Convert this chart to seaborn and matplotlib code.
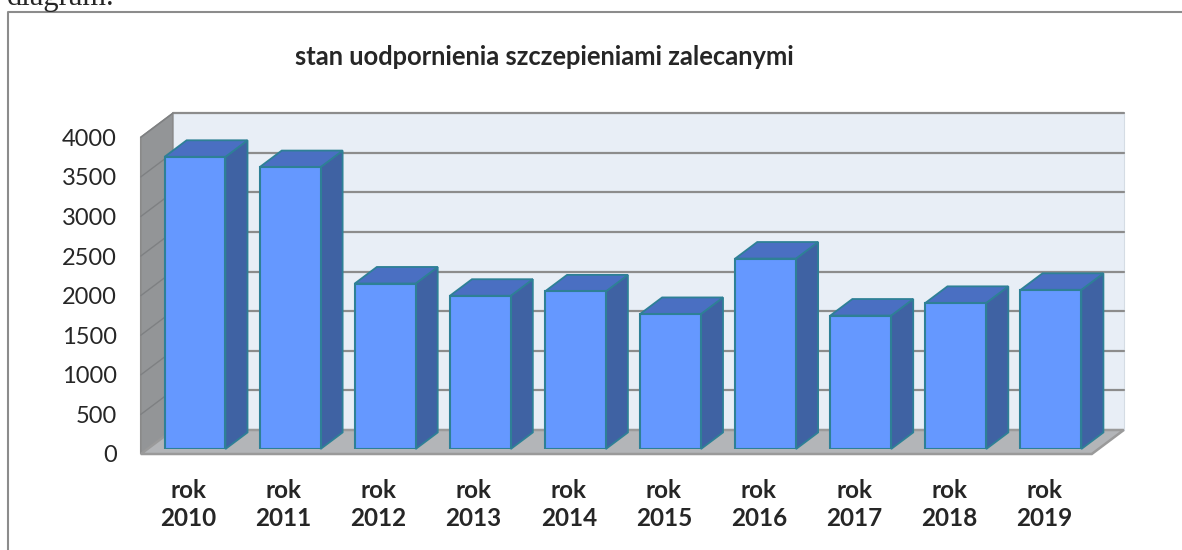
import matplotlib
matplotlib.use("Agg")
import matplotlib.pyplot as plt
import matplotlib.transforms as mtransforms
from matplotlib.patches import Polygon
from matplotlib.lines import Line2D
import seaborn as sns

# data
years = ["2010", "2011", "2012", "2013", "2014", "2015", "2016", "2017", "2018", "2019"]
values = [3690, 3560, 2090, 1935, 1990, 1705, 2405, 1685, 1845, 2010]
yticks = [0, 500, 1000, 1500, 2000, 2500, 3000, 3500, 4000]
title = "stan uodpornienia szczepieniami zalecanymi"

sns.set_style("white")
plt.rcParams["font.family"] = ["Lato", "DejaVu Sans"]

W, H, DPI = 1182, 550, 100
fig = plt.figure(figsize=(W / DPI, H / DPI), dpi=DPI)

# axes = front plane of the bars
x0_px, step_px = 195.0, 95.1
y0_px, ppu = 449.0, 316.7 / 4000
ax = fig.add_axes([(x0_px - 0.5 * step_px) / W, (H - y0_px) / H,
                   10 * step_px / W, 4000 * ppu / H])

# oblique depth vector in data units
Dx, Dy = 32 / step_px, 24 / ppu
t_front, t_back, t_bar = -5 / 24, 19 / 24, 0.69


def at(pts, t):
    return [(x + t * Dx, y + t * Dy) for x, y in pts]


n = len(years)
xl, xr, ytop = -0.5, n - 0.5, yticks[-1]

# walls and floor
back = at([(xl, 0), (xr, 0), (xr, ytop), (xl, ytop)], t_back)
ax.add_patch(Polygon(back, closed=True, fc="#E8EEF6", ec="#D5DCE4", lw=0.8,
                     zorder=0, clip_on=False))
side = (at([(xl, 0)], t_front) + at([(xl, 0)], t_back)
        + at([(xl, ytop)], t_back) + at([(xl, ytop)], t_front))
ax.add_patch(Polygon(side, closed=True, fc="#939597", ec="#8A8A8A", lw=1.2,
                     zorder=0.5, clip_on=False))
floor = at([(xl, 0), (xr, 0)], t_front) + at([(xr, 0), (xl, 0)], t_back)
ax.add_patch(Polygon(floor, closed=True, fc="#B3B5B8", ec="#9A9A9A", lw=1.8,
                     zorder=0.6, clip_on=False))

# gridlines on back and left walls
for v in yticks[1:]:
    (a, b), (c, d) = at([(xl, v), (xr, v)], t_back)
    ax.add_line(Line2D([a, c], [b, d], color="#8C8C8C", lw=1.6, zorder=0.4,
                       clip_on=False))
    (a, b), = at([(xl, v)], t_front)
    (c, d), = at([(xl, v)], t_back)
    ax.add_line(Line2D([a, c], [b, d], color="#7E8082", lw=1.0, zorder=0.55,
                       clip_on=False))

# bars (front faces) with seaborn
sns.barplot(x=years, y=values, color="#6598FF", saturation=1, width=0.64,
            edgecolor="#2E8096", linewidth=1.5, ax=ax, zorder=3)

for p in list(ax.patches):
    if p.get_zorder() != 3:
        continue
    x, w, h = p.get_x(), p.get_width(), p.get_height()
    sd = [(x + w, 0), (x + w + t_bar * Dx, t_bar * Dy),
          (x + w + t_bar * Dx, h + t_bar * Dy), (x + w, h)]
    tp = [(x, h), (x + w, h), (x + w + t_bar * Dx, h + t_bar * Dy),
          (x + t_bar * Dx, h + t_bar * Dy)]
    ax.add_patch(Polygon(sd, closed=True, fc="#3F62A3", ec="#2E8096", lw=1.3,
                         zorder=2.5, clip_on=False))
    ax.add_patch(Polygon(tp, closed=True, fc="#4A6FC2", ec="#2E8096", lw=1.3,
                         zorder=2.5, clip_on=False))

ax.set_xlim(xl, xr)
ax.set_ylim(0, ytop)
ax.patch.set_visible(False)
for s in ax.spines.values():
    s.set_visible(False)
ax.set_xlabel("")
ax.set_ylabel("")

ax.set_yticks(yticks)
ax.set_yticklabels([str(v) for v in yticks], fontsize=17)
ax.set_xticks(range(n))
ax.set_xticklabels([f"rok\n{y}" for y in years], fontsize=17.5,
                   fontweight="bold", linespacing=1.25)
ax.tick_params(axis="y", length=0, pad=17.4)
ax.tick_params(axis="x", length=0, pad=18)

# tick labels sit on the front edge of the floor
shift = mtransforms.ScaledTranslation(t_front * 32 / DPI, t_front * 24 / DPI,
                                      fig.dpi_scale_trans)
for lab in ax.get_xticklabels() + ax.get_yticklabels():
    lab.set_transform(lab.get_transform() + shift)

fig.text(544 / W, 1 - 57 / H, title, ha="center", va="center",
         fontsize=18.4, fontweight="bold")

# text fragment cut off at the top of the page
fig.text(7 / W, 1 - 5 / H, "diagram.", ha="left", va="baseline",
         family="Liberation Serif", fontsize=22)

# frame around the chart
fig.add_artist(Line2D([8 / W, 8 / W, 1], [0, 1 - 12 / H, 1 - 12 / H],
                      transform=fig.transFigure, color="#8C8C8C", lw=1.5))

fig.savefig("out.png", dpi=DPI)
